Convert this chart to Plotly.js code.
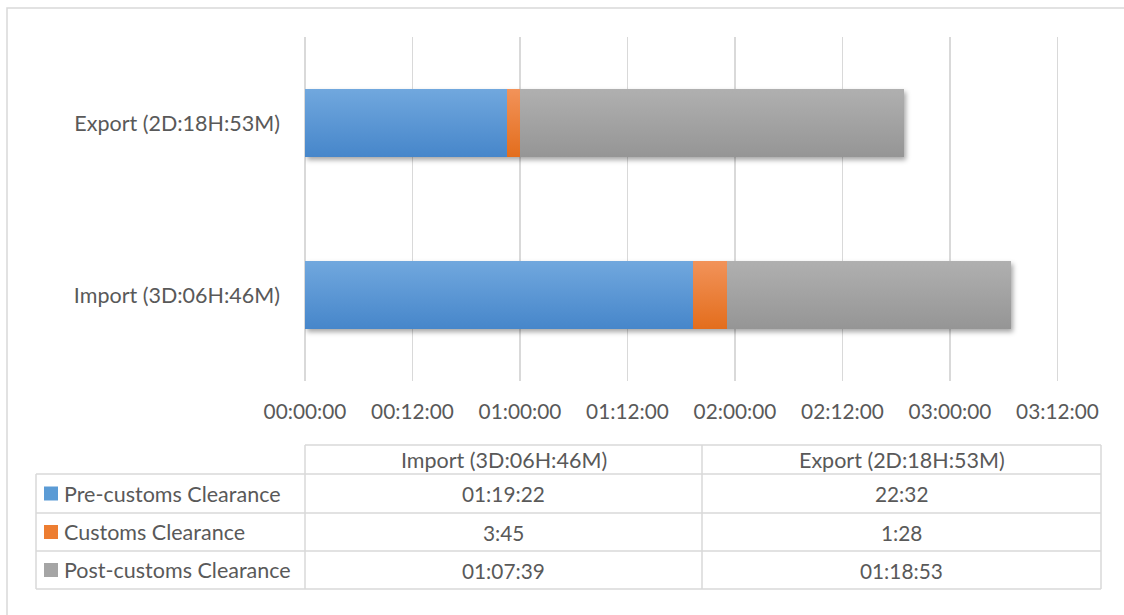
<!DOCTYPE html>
<html>
<head>
<meta charset="utf-8">
<script src="https://cdn.plot.ly/plotly-3.0.1.min.js"></script>
<style>
  html, body { margin: 0; padding: 0; background: #fff; }
  #chart { width: 1124px; height: 615px; }
  #chart .barlayer { filter: drop-shadow(2px 3px 2.5px rgba(0,0,0,0.35)); }
  #chart .barlayer .trace:nth-of-type(1) path { fill: url(#gBlue) !important; }
  #chart .barlayer .trace:nth-of-type(2) path { fill: url(#gOrange) !important; }
  #chart .barlayer .trace:nth-of-type(3) path { fill: url(#gGray) !important; }
</style>
</head>
<body>
<svg width="0" height="0" style="position:absolute">
  <defs>
    <linearGradient id="gBlue" x1="0" y1="0" x2="0" y2="1">
      <stop offset="0" stop-color="#71A8DE"/><stop offset="1" stop-color="#4686CA"/>
    </linearGradient>
    <linearGradient id="gOrange" x1="0" y1="0" x2="0" y2="1">
      <stop offset="0" stop-color="#F2935A"/><stop offset="1" stop-color="#E36D1C"/>
    </linearGradient>
    <linearGradient id="gGray" x1="0" y1="0" x2="0" y2="1">
      <stop offset="0" stop-color="#B0B0B0"/><stop offset="1" stop-color="#959595"/>
    </linearGradient>
  </defs>
</svg>
<div id="chart"></div>
<script>
// ---- data (durations as shown: DD:HH:MM or H:MM) ----
const categories = ['Import (3D:06H:46M)', 'Export (2D:18H:53M)'];
const seriesNames = ['Pre-customs Clearance', 'Customs Clearance', 'Post-customs Clearance'];
const preCustoms = ['01:19:22', '22:32'];
const customs = ['3:45', '1:28'];
const postCustoms = ['01:07:39', '01:18:53'];
const seriesColors = ['#5B9BD5', '#ED7D31', '#A5A5A5'];
const tickValues = [0, 0.5, 1, 1.5, 2, 2.5, 3, 3.5];
const tickLabels = ['00:00:00', '00:12:00', '01:00:00', '01:12:00', '02:00:00', '02:12:00', '03:00:00', '03:12:00'];

// ---- helpers ----
function toDays(s) {
  const p = s.split(':').map(Number);
  if (p.length === 3) return p[0] + p[1] / 24 + p[2] / 1440;
  return p[0] / 24 + p[1] / 1440;
}
const W = 1124, H = 615;
const px = x => x / W;
const py = y => 1 - y / H;
const FONT = 'Lato, "Open Sans", sans-serif';
const TXT = '#595959';
const GRID = '#D9D9D9';
const FS_TEXT = 21.5;
const FS_NUM = 20.8;

const seriesData = [preCustoms, customs, postCustoms];
const traces = seriesData.map((vals, i) => ({
  type: 'bar',
  orientation: 'h',
  name: seriesNames[i],
  y: categories,
  x: vals.map(toDays),
  marker: { color: seriesColors[i], line: { width: 0 } },
  hoverinfo: 'name+text',
  text: vals,
  textposition: 'none'
}));

// ---- table geometry (pixels) ----
const tblLeft = 36, colA = 305, colB = 702, tblRight = 1101;
const hdrTop = 445, rowLines = [474, 513, 551, 589];
const shapes = [];
const line = (x0, y0, x1, y1) => shapes.push({
  type: 'line', xref: 'paper', yref: 'paper',
  x0: px(x0), y0: py(y0), x1: px(x1), y1: py(y1),
  line: { color: GRID, width: 1.5 }
});
// outer chart border
shapes.push({ type: 'rect', xref: 'paper', yref: 'paper',
  x0: px(7), y0: py(8), x1: px(W + 5), y1: py(H + 5),
  line: { color: GRID, width: 1.5 }, fillcolor: 'rgba(0,0,0,0)' });
line(colA, hdrTop, tblRight, hdrTop);
rowLines.forEach(y => line(tblLeft, y, tblRight, y));
line(tblLeft, rowLines[0], tblLeft, rowLines[rowLines.length - 1]);
[colA, colB, tblRight].forEach(x => line(x, hdrTop, x, rowLines[rowLines.length - 1]));

const annotations = [];
const colCenters = [(colA + colB) / 2, (colB + tblRight) / 2];
const hdrCenter = (hdrTop + rowLines[0]) / 2;
categories.forEach((c, j) => annotations.push({
  xref: 'paper', yref: 'paper', x: px(colCenters[j]), y: py(hdrCenter),
  text: c, showarrow: false, xanchor: 'center', yanchor: 'middle',
  font: { family: FONT, size: FS_TEXT, color: TXT }
}));
seriesNames.forEach((name, i) => {
  const yc = (rowLines[i] + rowLines[i + 1]) / 2;
  shapes.push({ type: 'rect', xref: 'paper', yref: 'paper',
    x0: px(44), x1: px(58), y0: py(yc - 7), y1: py(yc + 7),
    fillcolor: seriesColors[i], line: { width: 0 } });
  annotations.push({
    xref: 'paper', yref: 'paper', x: px(62), y: py(yc),
    text: name, showarrow: false, xanchor: 'left', yanchor: 'middle',
    font: { family: FONT, size: FS_TEXT, color: TXT }
  });
  seriesData[i].forEach((v, j) => annotations.push({
    xref: 'paper', yref: 'paper', x: px(colCenters[j]), y: py(yc),
    text: v, showarrow: false, xanchor: 'center', yanchor: 'middle',
    font: { family: FONT, size: FS_NUM, color: TXT }
  }));
});

const layout = {
  width: W, height: H,
  margin: { l: 0, r: 0, t: 0, b: 0 },
  paper_bgcolor: '#fff', plot_bgcolor: '#fff',
  showlegend: false,
  barmode: 'stack',
  bargap: 0.6,
  font: { family: FONT, size: FS_TEXT, color: TXT },
  xaxis: {
    domain: [px(colA), px(tblRight)],
    range: [0, (tblRight - colA) / 215],
    tickmode: 'array', tickvals: tickValues, ticktext: tickLabels,
    showgrid: true, gridcolor: GRID, gridwidth: 1.5,
    zeroline: true, zerolinecolor: GRID, zerolinewidth: 1.5,
    showline: false, ticks: '', ticklabelstandoff: 16,
    tickfont: { family: FONT, size: FS_NUM, color: TXT },
    fixedrange: true
  },
  yaxis: {
    domain: [py(381), py(37)],
    type: 'category',
    showgrid: false, zeroline: false, showline: false, ticks: '',
    ticklabelstandoff: 24,
    tickfont: { family: FONT, size: FS_TEXT, color: TXT },
    fixedrange: true
  },
  shapes: shapes,
  annotations: annotations
};

Plotly.newPlot('chart', traces, layout, { displayModeBar: false, staticPlot: true });
</script>
</body>
</html>
